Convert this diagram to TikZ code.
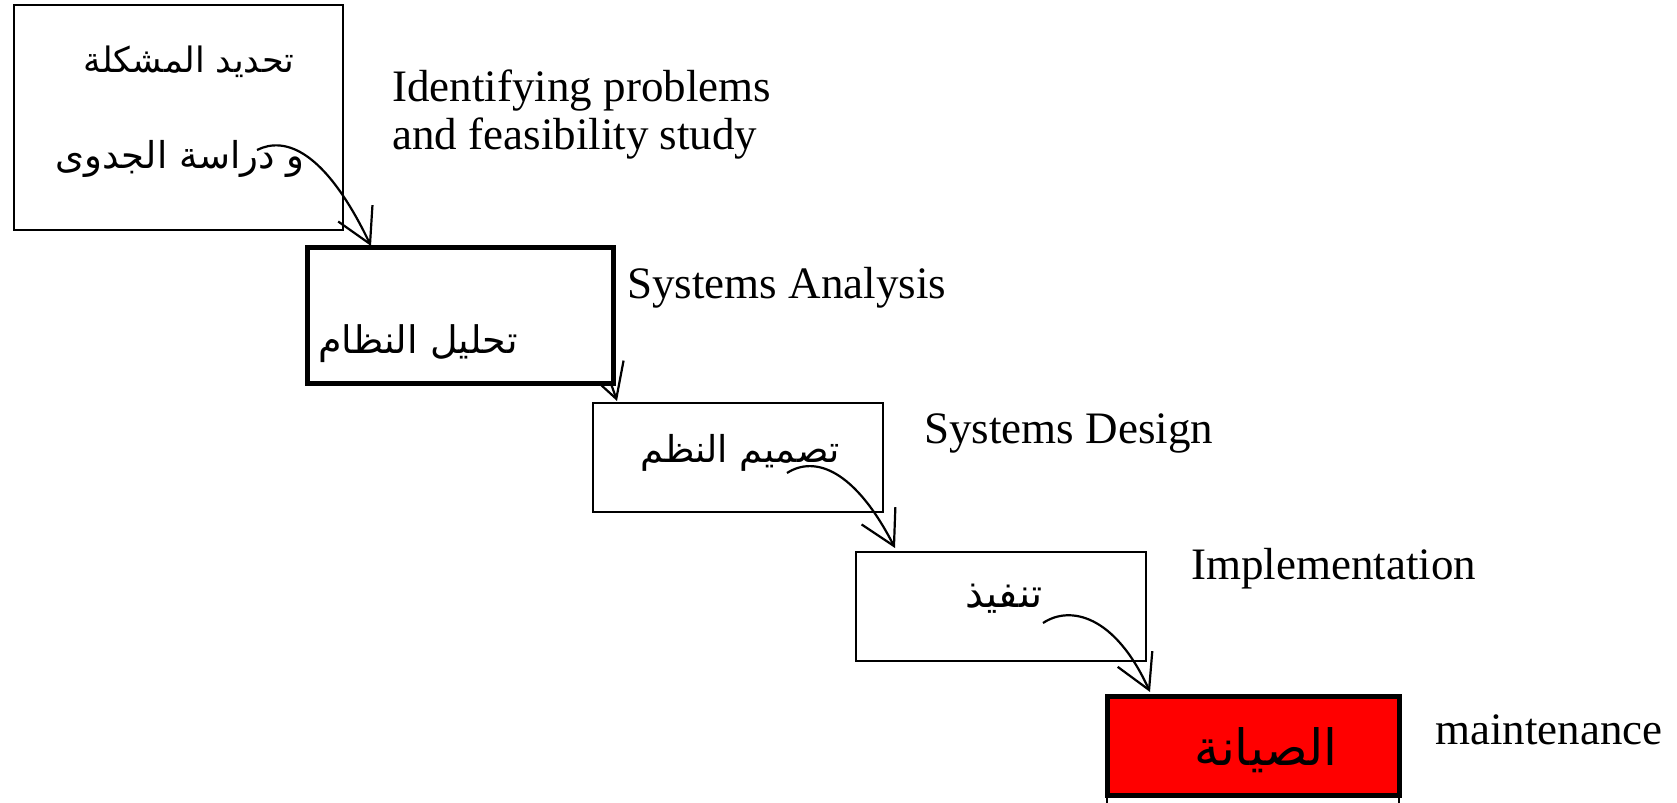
\documentclass[tikz,border=0pt]{standalone}
\usepackage{fontspec}
\setmainfont{Liberation Serif}
\newfontfamily\arabicfont[Script=Arabic]{DejaVu Sans}
\TeXXeTstate=1
\usetikzlibrary{positioning}
\usetikzlibrary{arrows.meta}

\newcommand{\arsize}[1]{\fontsize{#1}{#1}\arabicfont}

\tikzset{
  stagebox/.style={draw, line width=1pt, fill=white, inner sep=0pt},
  boldbox/.style={stagebox, line width=2.5pt},
  engtext/.style={font=\fontsize{22.5}{24}\selectfont, inner sep=0pt, anchor=base west},
  artxt/.style={inner sep=0pt, anchor=base},
  flow/.style={line width=1.1pt, -{Straight Barb[length=17pt,width=19pt]}},
}

\begin{document}
\begin{tikzpicture}[x=0.5pt, y=-0.5pt]

\useasboundingbox (0,0) rectangle (1677,803);

%---------------------------------------
% Stage 1: problems and feasibility
%---------------------------------------
\node[stagebox, minimum width=164.5pt, minimum height=112.5pt] (problem) at (178.5,117.5) {};
\node[artxt] (problemA) at (189,72) {\arsize{17.5}\beginR تحديد المشكلة\endR};
\node[artxt] (problemB) at (180,168) {\arsize{18.5}\beginR و دراسة الجدوى\endR};
\node[engtext, anchor=north west, align=left] (problemEn) at (392,69)
  {Identifying problems\\and feasibility study};

\coordinate (s1) at (257,150);
\coordinate (e1) at (371,246);
\draw[flow] (s1) .. controls (285,136) and (325,150) .. (e1);

%---------------------------------------
% Stage 2: analysis (arrow hidden under the box)
%---------------------------------------
\coordinate (s2) at (545,320);
\coordinate (e2) at (617,401);
\draw[flow] (s2) .. controls (575,305) and (600,350) .. (e2);

\node[boldbox, minimum width=153pt, minimum height=68pt] (analysis) at (460,315) {};
\node[artxt] (analysisA) at (418,353) {\arsize{19}\beginR تحليل النظام\endR};
\node[engtext] (analysisEn) at (627,298) {Systems Analysis};

%---------------------------------------
% Stage 3: design
%---------------------------------------
\node[stagebox, minimum width=145pt, minimum height=54.5pt] (design) at (738,457.5) {};
\node[artxt] (designA) at (740,462) {\arsize{18.5}\beginR تصميم النظم\endR};
\node[engtext] (designEn) at (924,443) {Systems Design};

\coordinate (s3) at (787,473);
\coordinate (e3) at (895,548);
\draw[flow] (s3) .. controls (815,455) and (855,470) .. (e3);

%---------------------------------------
% Stage 4: implementation
%---------------------------------------
\node[stagebox, minimum width=145pt, minimum height=54.5pt] (impl) at (1001,606.5) {};
\node[artxt] (implA) at (1004,607) {\arsize{20}\beginR تنفيذ\endR};
\node[engtext] (implEn) at (1191,579) {Implementation};

\coordinate (s4) at (1043,623);
\coordinate (e4) at (1150,692);
\draw[flow] (s4) .. controls (1070,605) and (1115,615) .. (e4);

%---------------------------------------
% Stage 5: maintenance
%---------------------------------------
\draw[line width=1pt] (1107,795) -- (1107,803);
\draw[line width=1pt] (1399,795) -- (1399,803);
\node[boldbox, fill=red, minimum width=146pt, minimum height=49.5pt] (maint) at (1253,745.5) {};
\node[artxt] (maintA) at (1266,765) {\arsize{25}\beginR الصيانة\endR};
\node[engtext] (maintEn) at (1435,744) {maintenance};

\end{tikzpicture}
\end{document}
